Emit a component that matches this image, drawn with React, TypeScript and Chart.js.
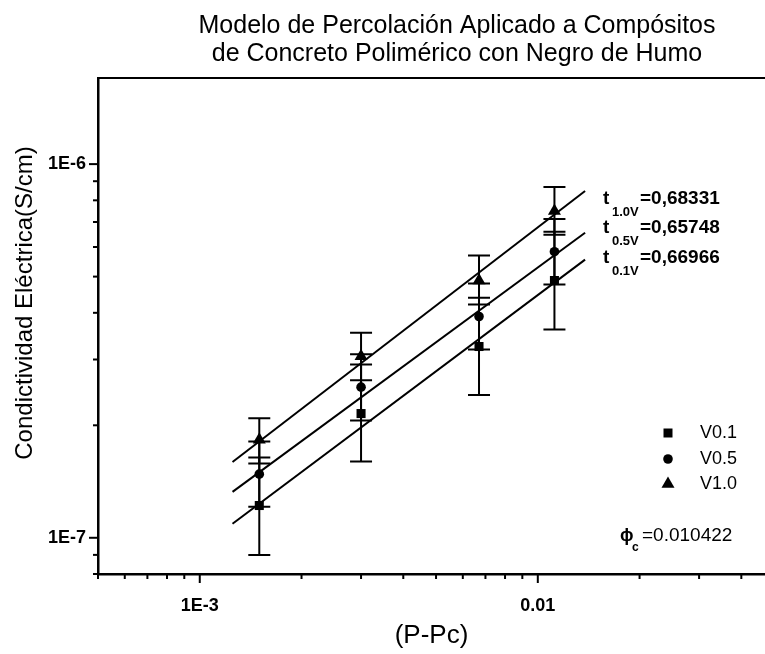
import React, { useEffect, useRef } from "react";
import { Chart, registerables } from "chart.js";

Chart.register(...registerables);

// ---- data ----
const xValues = [0.0015, 0.003, 0.0067, 0.0112];

const seriesNames = ["V0.1", "V0.5", "V1.0"];
const v01 = [1.22e-7, 2.15e-7, 3.25e-7, 4.88e-7];
const v05 = [1.48e-7, 2.53e-7, 3.91e-7, 5.83e-7];
const v10 = [1.83e-7, 3.06e-7, 4.88e-7, 7.49e-7];

const v01Hi = [1.64e-7, 2.91e-7, 4.39e-7, 6.59e-7];
const v01Lo = [0.9e-7, 1.6e-7, 2.41e-7, 3.61e-7];
const v05Hi = [1.81e-7, 3.1e-7, 4.79e-7, 7.13e-7];
const v05Lo = [1.21e-7, 2.06e-7, 3.19e-7, 4.76e-7];
const v10Hi = [2.09e-7, 3.54e-7, 5.69e-7, 8.68e-7];
const v10Lo = [1.58e-7, 2.64e-7, 4.21e-7, 6.47e-7];

const fitX = [0.00125, 0.0138];
const fit01 = [1.09e-7, 5.55e-7];
const fit05 = [1.327e-7, 6.55e-7];
const fit10 = [1.595e-7, 8.47e-7];

const fitLabels = [
  { sub: "1.0V", val: "=0,68331" },
  { sub: "0.5V", val: "=0,65748" },
  { sub: "0.1V", val: "=0,66966" },
];
const phiText = "=0.010422";

const titleLines = [
  "Modelo de Percolación Aplicado a Compósitos",
  "de Concreto Polimérico con Negro de Humo",
];
const xTitle = "(P-Pc)";
const yTitle = "Condictividad Eléctrica(S/cm)";

const xMin = 5e-4;
const xMax = 0.047;
const yMin = 8e-8;
const yMax = 1.7e-6;

const FONT = "'Liberation Sans', Arial, sans-serif";

const pts = (ys: number[]) => xValues.map((x, i) => ({ x, y: ys[i] }));
const line = (ys: number[]) => fitX.map((x, i) => ({ x, y: ys[i] }));

const isPow10 = (v: number) => Math.abs(Math.log10(v) - Math.round(Math.log10(v))) < 1e-9;
const isNice = (v: number) => {
  const e = Math.floor(Math.log10(v) + 1e-9);
  const s = v / Math.pow(10, e);
  return Math.abs(s - Math.round(s)) < 1e-6;
};

function drawMarker(ctx: CanvasRenderingContext2D, style: string, x: number, y: number) {
  ctx.beginPath();
  if (style === "rect") {
    ctx.rect(x - 4.5, y - 4.5, 9, 9);
  } else if (style === "circle") {
    ctx.arc(x, y, 4.8, 0, Math.PI * 2);
  } else {
    const r = 7.5;
    ctx.moveTo(x, y - r);
    ctx.lineTo(x + r * 0.866, y + r * 0.5);
    ctx.lineTo(x - r * 0.866, y + r * 0.5);
    ctx.closePath();
  }
  ctx.fill();
}

const errorSets = [
  { lo: v01Lo, hi: v01Hi },
  { lo: v05Lo, hi: v05Hi },
  { lo: v10Lo, hi: v10Hi },
];
const markerStyles = ["rect", "circle", "triangle"];

const decor = {
  id: "decor",
  beforeDatasetsDraw(chart: any) {
    const ctx = chart.ctx as CanvasRenderingContext2D;
    const xs = chart.scales.x;
    const ys = chart.scales.y;
    ctx.save();
    ctx.strokeStyle = "#000";
    ctx.lineWidth = 2;
    const cap = 11;
    errorSets.forEach((set) => {
      xValues.forEach((xv, i) => {
        const px = xs.getPixelForValue(xv);
        const top = ys.getPixelForValue(set.hi[i]);
        const bot = ys.getPixelForValue(set.lo[i]);
        ctx.beginPath();
        ctx.moveTo(px, top);
        ctx.lineTo(px, bot);
        ctx.moveTo(px - cap, top);
        ctx.lineTo(px + cap, top);
        ctx.moveTo(px - cap, bot);
        ctx.lineTo(px + cap, bot);
        ctx.stroke();
      });
    });
    ctx.restore();
  },
  afterDraw(chart: any) {
    const ctx = chart.ctx as CanvasRenderingContext2D;
    const area = chart.chartArea;
    const xs = chart.scales.x;
    const ys = chart.scales.y;
    ctx.save();
    ctx.strokeStyle = "#000";
    ctx.fillStyle = "#000";
    // top frame line
    ctx.lineWidth = 2;
    ctx.beginPath();
    ctx.moveTo(area.left - 1, area.top);
    ctx.lineTo(area.right, area.top);
    ctx.stroke();
    // tick marks (outward)
    ctx.lineWidth = 2;
    xs.ticks.forEach((t: any) => {
      if (!isNice(t.value)) return;
      const px = xs.getPixelForValue(t.value);
      const len = isPow10(t.value) ? 9 : 5;
      ctx.beginPath();
      ctx.moveTo(px, area.bottom);
      ctx.lineTo(px, area.bottom + len);
      ctx.stroke();
    });
    ys.ticks.forEach((t: any) => {
      if (!isNice(t.value)) return;
      const py = ys.getPixelForValue(t.value);
      const len = isPow10(t.value) ? 9 : 5;
      ctx.beginPath();
      ctx.moveTo(area.left, py);
      ctx.lineTo(area.left - len, py);
      ctx.stroke();
    });

    // titles
    ctx.textAlign = "center";
    ctx.textBaseline = "middle";
    ctx.font = `25px ${FONT}`;
    ctx.fillText(titleLines[0], 457, 26);
    ctx.fillText(titleLines[1], 457, 54);
    ctx.font = `26px ${FONT}`;
    ctx.fillText(xTitle, (area.left + area.right) / 2, 636);
    ctx.save();
    ctx.font = `24px ${FONT}`;
    ctx.translate(25, 303);
    ctx.rotate(-Math.PI / 2);
    ctx.fillText(yTitle, 0, 0);
    ctx.restore();

    // exponent annotations
    ctx.textAlign = "left";
    ctx.textBaseline = "alphabetic";
    const baselines = [204, 233, 263];
    fitLabels.forEach((f, i) => {
      const b = baselines[i];
      ctx.font = `bold 19px ${FONT}`;
      ctx.fillText("t", 603, b);
      ctx.fillText(f.val, 640, b);
      ctx.font = `bold 13px ${FONT}`;
      ctx.fillText(f.sub, 612, b + 12);
    });

    // legend
    const legendY = [433, 459, 484];
    seriesNames.forEach((name, i) => {
      drawMarker(ctx, markerStyles[i], 668, legendY[i]);
      ctx.font = `18px ${FONT}`;
      ctx.textBaseline = "middle";
      ctx.fillText(name, 700, legendY[i]);
    });

    // phi_c
    ctx.textBaseline = "alphabetic";
    ctx.font = `bold 18px ${FONT}`;
    ctx.fillText("ϕ", 620, 541);
    ctx.font = `bold 12px ${FONT}`;
    ctx.fillText("c", 632, 551);
    ctx.font = `19px ${FONT}`;
    ctx.fillText(phiText, 642, 541);
    ctx.restore();
  },
};

export default function App() {
  const ref = useRef<HTMLCanvasElement | null>(null);
  useEffect(() => {
    if (!ref.current) return;
    const pointDs = (label: string, ys: number[], style: string, radius: number) => ({
      type: "scatter" as const,
      label,
      data: pts(ys),
      pointStyle: style,
      pointRadius: radius,
      pointBackgroundColor: "#000",
      pointBorderColor: "#000",
      pointBorderWidth: 0,
      showLine: false,
    });
    const lineDs = (ys: number[]) => ({
      type: "scatter" as const,
      label: "fit",
      data: line(ys),
      showLine: true,
      borderColor: "#000",
      borderWidth: 2,
      pointRadius: 0,
      fill: false,
    });
    const tickFont = { family: FONT, size: 18, weight: "bold" as const };
    const hiddenGrid = (len: number) => ({
      display: true,
      drawOnChartArea: false,
      drawTicks: true,
      tickLength: len,
      tickWidth: 0,
      tickColor: "rgba(0,0,0,0)",
    });
    const chart = new Chart(ref.current, {
      type: "scatter",
      data: {
        datasets: [
          lineDs(fit01),
          lineDs(fit05),
          lineDs(fit10),
          pointDs(seriesNames[0], v01, "rect", 6.4),
          pointDs(seriesNames[1], v05, "circle", 4.8),
          pointDs(seriesNames[2], v10, "triangle", 7.5),
        ],
      },
      options: {
        responsive: false,
        animation: false,
        devicePixelRatio: 1,
        layout: { autoPadding: false, padding: { top: 78, left: 0, right: 0, bottom: 0 } },
        plugins: { legend: { display: false }, tooltip: { enabled: false }, title: { display: false } },
        scales: {
          x: {
            type: "logarithmic",
            min: xMin,
            max: xMax,
            afterFit: (s: any) => {
              s.height = 80;
            },
            grid: hiddenGrid(21),
            border: { display: true, color: "#000", width: 2.5 },
            ticks: {
              autoSkip: false,
              maxRotation: 0,
              padding: 0,
              color: "#000",
              font: tickFont,
              callback: (v: any) => {
                const n = Number(v);
                if (!isPow10(n)) return "";
                return Math.round(Math.log10(n)) === -3 ? "1E-3" : "0.01";
              },
            },
          },
          y: {
            type: "logarithmic",
            min: yMin,
            max: yMax,
            afterFit: (s: any) => {
              s.width = 98;
            },
            grid: hiddenGrid(12),
            border: { display: true, color: "#000", width: 2.5 },
            ticks: {
              autoSkip: false,
              padding: 0,
              color: "#000",
              font: tickFont,
              callback: (v: any) => {
                const n = Number(v);
                if (!isPow10(n)) return "";
                return "1E" + Math.round(Math.log10(n));
              },
            },
          },
        },
      },
      plugins: [decor],
    });
    return () => chart.destroy();
  }, []);
  return (
    <div style={{ position: "absolute", left: 0, top: 0, width: 765, height: 654, background: "#fff" }}>
      <canvas ref={ref} width={765} height={654} style={{ display: "block" }} />
    </div>
  );
}
